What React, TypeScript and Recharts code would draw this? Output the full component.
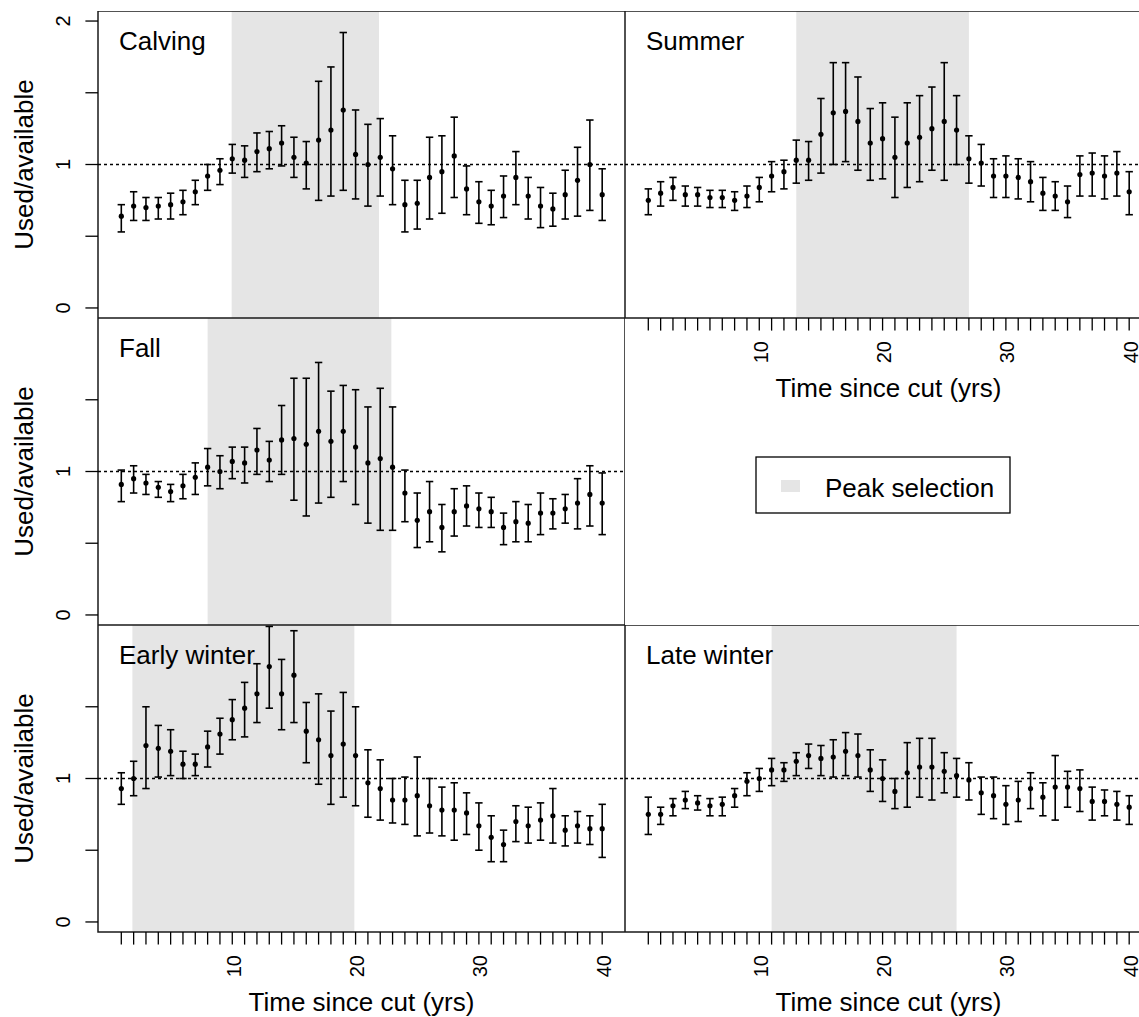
import React from 'react';
import { ComposedChart, Scatter, ErrorBar, XAxis, YAxis, ReferenceArea, ReferenceLine } from 'recharts';

// years since cut (x categories)
const years = [1, 2, 3, 4, 5, 6, 7, 8, 9, 10, 11, 12, 13, 14, 15, 16, 17, 18, 19, 20,
  21, 22, 23, 24, 25, 26, 27, 28, 29, 30, 31, 32, 33, 34, 35, 36, 37, 38, 39, 40];
const yTicksTop = [0, 0.5, 1, 1.5, 2];
const yTicksLower = [0, 0.5, 1, 1.5];

const calvingMean = [0.64, 0.71, 0.70, 0.71, 0.72, 0.74, 0.81, 0.92, 0.96, 1.04, 1.03, 1.09, 1.11, 1.15, 1.05, 1.01, 1.17, 1.24, 1.38, 1.07,
  1.00, 1.05, 0.97, 0.72, 0.73, 0.91, 0.95, 1.06, 0.83, 0.74, 0.71, 0.78, 0.91, 0.78, 0.71, 0.69, 0.79, 0.89, 1.00, 0.79];
const calvingLow = [0.53, 0.61, 0.61, 0.62, 0.62, 0.65, 0.72, 0.82, 0.86, 0.94, 0.91, 0.95, 0.97, 0.99, 0.91, 0.83, 0.75, 0.78, 0.82, 0.76,
  0.71, 0.78, 0.72, 0.53, 0.55, 0.62, 0.66, 0.77, 0.65, 0.59, 0.58, 0.63, 0.72, 0.62, 0.56, 0.57, 0.62, 0.64, 0.68, 0.61];
const calvingHigh = [0.72, 0.81, 0.77, 0.77, 0.80, 0.82, 0.89, 1.00, 1.04, 1.14, 1.13, 1.22, 1.23, 1.27, 1.19, 1.16, 1.58, 1.68, 1.92, 1.38,
  1.28, 1.32, 1.20, 0.89, 0.89, 1.19, 1.20, 1.33, 0.99, 0.88, 0.82, 0.92, 1.09, 0.91, 0.84, 0.80, 0.96, 1.12, 1.31, 0.97];
const calvingPeak = [9.95, 21.9];

const summerMean = [0.75, 0.80, 0.84, 0.79, 0.79, 0.77, 0.77, 0.75, 0.78, 0.84, 0.92, 0.95, 1.03, 1.03, 1.21, 1.36, 1.37, 1.30, 1.15, 1.18,
  1.05, 1.15, 1.19, 1.25, 1.30, 1.24, 1.04, 1.01, 0.92, 0.92, 0.91, 0.88, 0.80, 0.78, 0.74, 0.93, 0.94, 0.92, 0.94, 0.81];
const summerLow = [0.65, 0.71, 0.75, 0.71, 0.71, 0.70, 0.70, 0.68, 0.70, 0.74, 0.81, 0.83, 0.87, 0.89, 0.94, 1.00, 1.02, 0.96, 0.89, 0.90,
  0.77, 0.84, 0.88, 0.96, 0.89, 1.00, 0.87, 0.85, 0.77, 0.77, 0.76, 0.74, 0.68, 0.68, 0.63, 0.78, 0.78, 0.76, 0.78, 0.65];
const summerHigh = [0.83, 0.88, 0.91, 0.85, 0.84, 0.82, 0.82, 0.81, 0.85, 0.91, 1.02, 1.03, 1.17, 1.16, 1.46, 1.71, 1.71, 1.61, 1.39, 1.43,
  1.33, 1.43, 1.48, 1.54, 1.71, 1.48, 1.20, 1.14, 1.04, 1.06, 1.04, 1.02, 0.91, 0.88, 0.85, 1.06, 1.08, 1.06, 1.09, 0.95];
const summerPeak = [13, 27];

const fallMean = [0.91, 0.95, 0.92, 0.89, 0.86, 0.90, 0.96, 1.03, 1.00, 1.07, 1.06, 1.15, 1.08, 1.22, 1.23, 1.19, 1.28, 1.21, 1.28, 1.17,
  1.06, 1.09, 1.03, 0.85, 0.66, 0.72, 0.61, 0.72, 0.76, 0.74, 0.72, 0.61, 0.65, 0.64, 0.71, 0.71, 0.74, 0.78, 0.84, 0.78];
const fallLow = [0.79, 0.85, 0.84, 0.82, 0.79, 0.81, 0.84, 0.90, 0.88, 0.95, 0.92, 0.98, 0.93, 0.98, 0.80, 0.69, 0.78, 0.82, 0.93, 0.77,
  0.64, 0.59, 0.59, 0.65, 0.47, 0.51, 0.44, 0.55, 0.62, 0.61, 0.61, 0.49, 0.51, 0.51, 0.56, 0.60, 0.64, 0.60, 0.62, 0.56];
const fallHigh = [1.01, 1.04, 0.98, 0.93, 0.91, 0.98, 1.06, 1.16, 1.11, 1.17, 1.17, 1.30, 1.21, 1.46, 1.65, 1.65, 1.76, 1.56, 1.60, 1.57,
  1.45, 1.58, 1.45, 1.01, 0.85, 0.93, 0.77, 0.88, 0.90, 0.85, 0.82, 0.71, 0.79, 0.77, 0.85, 0.81, 0.84, 0.95, 1.04, 0.99];
const fallPeak = [8, 22.9];

const earlyMean = [0.93, 1.00, 1.23, 1.21, 1.19, 1.10, 1.10, 1.22, 1.31, 1.41, 1.49, 1.59, 1.78, 1.59, 1.72, 1.33, 1.27, 1.16, 1.24, 1.16,
  0.97, 0.93, 0.85, 0.85, 0.88, 0.81, 0.78, 0.78, 0.76, 0.67, 0.59, 0.54, 0.70, 0.67, 0.71, 0.74, 0.64, 0.67, 0.65, 0.65];
const earlyLow = [0.82, 0.88, 0.93, 1.01, 1.02, 1.00, 1.02, 1.08, 1.17, 1.27, 1.29, 1.39, 1.49, 1.34, 1.39, 1.11, 0.96, 0.82, 0.87, 0.81,
  0.73, 0.71, 0.69, 0.68, 0.60, 0.62, 0.60, 0.57, 0.61, 0.50, 0.42, 0.42, 0.56, 0.55, 0.57, 0.55, 0.53, 0.55, 0.54, 0.45];
const earlyHigh = [1.04, 1.12, 1.50, 1.37, 1.34, 1.19, 1.17, 1.33, 1.42, 1.55, 1.67, 1.80, 2.06, 1.83, 2.03, 1.53, 1.59, 1.47, 1.60, 1.50,
  1.20, 1.13, 1.00, 1.01, 1.15, 1.00, 0.94, 0.97, 0.90, 0.83, 0.74, 0.64, 0.81, 0.80, 0.83, 0.93, 0.74, 0.77, 0.74, 0.82];
const earlyPeak = [1.9, 19.9];

const lateMean = [0.75, 0.75, 0.81, 0.85, 0.83, 0.81, 0.82, 0.88, 0.98, 1.00, 1.06, 1.06, 1.12, 1.16, 1.14, 1.15, 1.19, 1.16, 1.06, 1.00,
  0.91, 1.04, 1.08, 1.08, 1.05, 1.02, 0.99, 0.90, 0.88, 0.82, 0.85, 0.93, 0.87, 0.94, 0.94, 0.93, 0.84, 0.84, 0.82, 0.80];
const lateLow = [0.61, 0.68, 0.74, 0.79, 0.78, 0.74, 0.74, 0.80, 0.88, 0.91, 0.95, 0.98, 1.02, 1.07, 1.02, 1.01, 1.02, 1.01, 0.91, 0.84,
  0.79, 0.80, 0.87, 0.85, 0.90, 0.87, 0.85, 0.75, 0.72, 0.68, 0.70, 0.79, 0.74, 0.71, 0.80, 0.77, 0.71, 0.74, 0.71, 0.68];
const lateHigh = [0.87, 0.80, 0.86, 0.91, 0.88, 0.86, 0.87, 0.93, 1.04, 1.07, 1.14, 1.11, 1.18, 1.24, 1.23, 1.27, 1.32, 1.31, 1.20, 1.13,
  1.00, 1.25, 1.28, 1.28, 1.18, 1.14, 1.11, 1.01, 1.01, 0.95, 0.98, 1.04, 0.97, 1.16, 1.05, 1.06, 0.94, 0.92, 0.91, 0.88];
const latePeak = [11, 26];

// layout (page pixels)
const FONT = '"Liberation Sans", Arial, Helvetica, sans-serif';
const X_DOMAIN = [-0.89, 41.85];
const Y_DOMAIN = [-0.07, 2.07];
const BOX_L = [98, 625];
const BOX_TOP = [11, 318, 625];
const BOX_W = 527;
const BOX_H = 307;
const AXIS_W = 98;
const AXIS_H = 95;
const TICK = 12.6;
const PEAK_FILL = '#E5E5E5';

const panels = [
  { title: 'Calving', mean: calvingMean, low: calvingLow, high: calvingHigh, peak: calvingPeak, col: 0, row: 0, showX: false, yTicks: yTicksTop },
  { title: 'Summer', mean: summerMean, low: summerLow, high: summerHigh, peak: summerPeak, col: 1, row: 0, showX: true, yTicks: yTicksTop },
  { title: 'Fall', mean: fallMean, low: fallLow, high: fallHigh, peak: fallPeak, col: 0, row: 1, showX: false, yTicks: yTicksLower },
  { title: 'Early winter', mean: earlyMean, low: earlyLow, high: earlyHigh, peak: earlyPeak, col: 0, row: 2, showX: true, yTicks: yTicksLower },
  { title: 'Late winter', mean: lateMean, low: lateLow, high: lateHigh, peak: latePeak, col: 1, row: 2, showX: true, yTicks: yTicksLower },
];

const XTick = (props: any) => {
  const { x, y, payload } = props;
  if (payload.value % 10 !== 0) return <g />;
  const tx = x + 1.5;
  const ty = y + 10.4;
  return (
    <text x={tx} y={ty} transform={`rotate(-90, ${tx}, ${ty})`} textAnchor="end" dominantBaseline="central"
      fontSize={20} fontFamily={FONT} fill="#000">
      {payload.value}
    </text>
  );
};

const YTick = (props: any) => {
  const { x, y, payload } = props;
  if (!Number.isInteger(payload.value)) return <g />;
  const tx = x - 22;
  return (
    <text x={tx} y={y} transform={`rotate(-90, ${tx}, ${y})`} textAnchor="middle" dominantBaseline="central"
      fontSize={20} fontFamily={FONT} fill="#000">
      {payload.value}
    </text>
  );
};

const dot = (p: any) => <circle cx={p.cx} cy={p.cy} r={2.6} fill="#000" />;

const Panel = ({ mean, low, high, peak, col, row, showX, yTicks }: any) => {
  const rows = years.map((x, i) => ({ x, y: mean[i], err: [mean[i] - low[i], high[i] - mean[i]] }));
  const showY = col === 0;
  const width = (showY ? AXIS_W : 0) + BOX_W;
  const height = BOX_H + (showX ? AXIS_H : 0);
  return (
    <div style={{ position: 'absolute', left: showY ? 0 : BOX_L[1], top: BOX_TOP[row] }}>
      <ComposedChart width={width} height={height} data={rows} margin={{ top: 0, right: 0, bottom: 0, left: 0 }}>
        <XAxis type="number" dataKey="x" domain={X_DOMAIN} allowDataOverflow ticks={years} interval={0}
          hide={!showX} height={AXIS_H} tickSize={TICK} tickMargin={0} axisLine={false}
          tickLine={{ stroke: '#000', strokeWidth: 1.3 }} tick={XTick} />
        <YAxis type="number" dataKey="y" domain={Y_DOMAIN} allowDataOverflow ticks={yTicks} interval={0}
          hide={!showY} width={AXIS_W} tickSize={TICK} tickMargin={0} axisLine={false}
          tickLine={{ stroke: '#000', strokeWidth: 1.3 }} tick={YTick} />
        <ReferenceArea x1={peak[0]} x2={peak[1]} y1={Y_DOMAIN[0]} y2={Y_DOMAIN[1]} fill={PEAK_FILL} fillOpacity={1} stroke="none" />
        <ReferenceLine y={1} stroke="#000" strokeWidth={1.4} strokeDasharray="3 3" />
        <Scatter dataKey="y" data={rows} shape={dot} isAnimationActive={false}>
          <ErrorBar dataKey="err" direction="y" width={3.7} stroke="#000" strokeWidth={1.6} isAnimationActive={false} />
        </Scatter>
        <ReferenceArea x1={X_DOMAIN[0]} x2={X_DOMAIN[1]} y1={Y_DOMAIN[0]} y2={Y_DOMAIN[1]} fill="none" fillOpacity={0}
          stroke="#1a1a1a" strokeWidth={1.5} />
      </ComposedChart>
    </div>
  );
};

export default function App() {
  const xTitles = [
    { x: BOX_L[1] + BOX_W / 2, y: BOX_TOP[0] + BOX_H + 79 },
    { x: BOX_L[0] + BOX_W / 2, y: BOX_TOP[2] + BOX_H + 79 },
    { x: BOX_L[1] + BOX_W / 2, y: BOX_TOP[2] + BOX_H + 79 },
  ];
  return (
    <div style={{ position: 'fixed', left: 0, top: 0, width: 1139, height: 1017, overflow: 'hidden', background: '#fff' }}>
      {panels.map((p) => <Panel key={p.title} {...p} />)}
      <svg width={1139} height={1017} style={{ position: 'absolute', left: 0, top: 0, pointerEvents: 'none' }} fontFamily={FONT}>
        {panels.map((p) => (
          <text key={p.title} x={BOX_L[p.col] + 21} y={BOX_TOP[p.row] + 39} fontSize={26} fill="#000">{p.title}</text>
        ))}
        {BOX_TOP.map((t) => {
          const cy = t + BOX_H / 2;
          return (
            <text key={t} x={33} y={cy} transform={`rotate(-90, 33, ${cy})`} textAnchor="middle" fontSize={26} fill="#000">
              Used/available
            </text>
          );
        })}
        {xTitles.map((t, i) => (
          <text key={i} x={t.x} y={t.y} textAnchor="middle" fontSize={26} fill="#000">Time since cut (yrs)</text>
        ))}
        <rect x={756} y={457} width={254} height={56} fill="#fff" stroke="#000" strokeWidth={1.3} />
        <rect x={781} y={480} width={19} height={12} fill={PEAK_FILL} />
        <text x={825} y={497} fontSize={26} fill="#000">Peak selection</text>
      </svg>
    </div>
  );
}
